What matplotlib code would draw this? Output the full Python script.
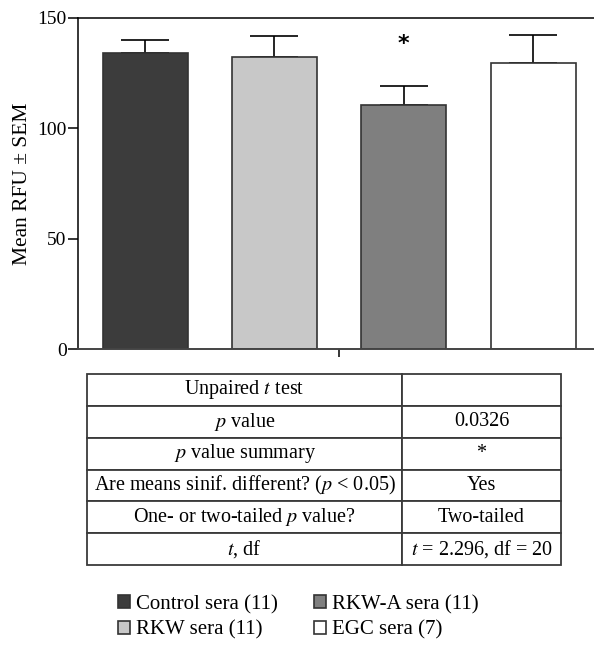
import matplotlib
matplotlib.use("Agg")
import matplotlib.pyplot as plt

plt.rcParams['font.family'] = ['Liberation Serif', 'DejaVu Serif']
plt.rcParams['mathtext.fontset'] = 'stix'

# data
groups = ['Control sera (11)', 'RKW sera (11)', 'RKW-A sera (11)', 'EGC sera (7)']
means = [133.9, 132.4, 110.7, 129.4]
sem = [5.9, 9.5, 8.3, 12.8]
colors = ['#3c3c3c', '#c8c8c8', '#7f7f7f', '#ffffff']

table_left = ['Unpaired $t$ test', '$p$ value', '$p$ value summary',
              'Are means sinif. different? ($p$ < 0.05)',
              'One- or two-tailed $p$ value?', '$t$, df']
table_right = ['', '0.0326', '*', 'Yes', 'Two-tailed', '$t$ = 2.296, df = 20']

W, H = 594, 652
fig = plt.figure(figsize=(W / 100, H / 100), dpi=100)

# bar chart axes (pixel positions from the reference)
ax = fig.add_axes([78 / W, 1 - 349 / H, 1 - 78 / W, (349 - 17.7) / H])
x = range(len(groups))
bars = ax.bar(x, means, width=0.657, color=colors, edgecolor='#333333',
              linewidth=1.2, label=groups, zorder=2)
# only the upper half of the SEM bar is shown
ax.errorbar(x, means, yerr=[[0] * 4, sem], fmt='none', ecolor='black',
            elinewidth=1.2, capsize=17, capthick=1.2, zorder=1)
ax.text(2, 138.3, '*', family='DejaVu Sans', fontweight='bold', fontsize=16,
        ha='center', va='center')

ax.set_xlim(-0.518, 3.47)
ax.set_ylim(0, 150)
ax.set_yticks([0, 50, 100, 150])
ax.set_xticks([1.5])
ax.set_xticklabels([])
ax.tick_params(axis='y', length=7.2, width=1.1, labelsize=14, pad=1)
ax.tick_params(axis='x', length=5.8, width=1.1)
ax.spines['right'].set_visible(False)
for s in ['left', 'top']:
    ax.spines[s].set_linewidth(1.1)
ax.spines['bottom'].set_linewidth(1.4)
ax.spines['bottom'].set_color('#444444')
ax.set_ylabel('Mean RFU ± SEM', fontsize=15.5, labelpad=4)

# statistics table
tax = fig.add_axes([87 / W, 1 - 565 / H, (560.7 - 87) / W, (565 - 374) / H])
tax.axis('off')
tbl = tax.table(cellText=[[a, b] for a, b in zip(table_left, table_right)],
                colWidths=[0.6656, 0.3344], cellLoc='center', bbox=[0, 0, 1, 1])
tbl.auto_set_font_size(False)
tbl.set_fontsize(14.5)
for cell in tbl.get_celld().values():
    cell.set_edgecolor('#3a3a3a')
    cell.set_linewidth(1.3)

# legend below the table
fig.legend(handles=list(bars), labels=groups, ncol=2, frameon=False,
           loc='upper left', bbox_to_anchor=(118 / W, 1 - 595 / H),
           fontsize=15, handlelength=0.58, handleheight=0.58,
           handletextpad=0.3, columnspacing=1.7, labelspacing=0.3,
           borderpad=0, borderaxespad=0)

fig.savefig('out.png', dpi=100)
